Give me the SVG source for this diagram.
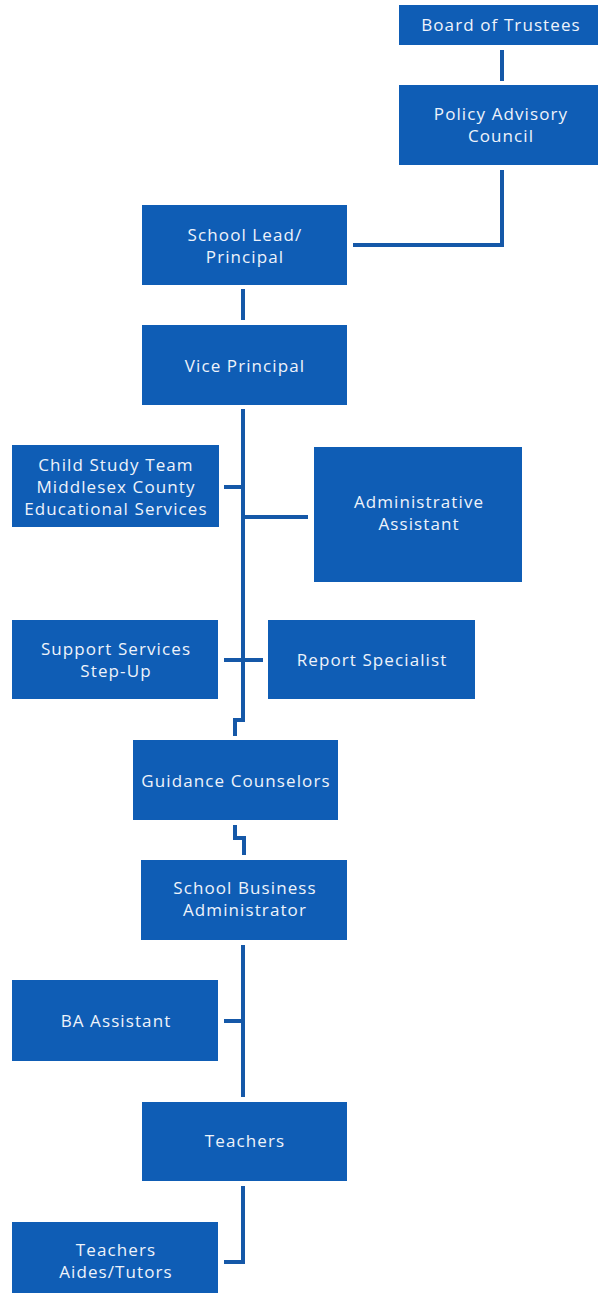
<svg xmlns="http://www.w3.org/2000/svg" width="599" height="1297" viewBox="0 0 599 1297">
<style>
.box{fill:#0f5db5}
.t{fill:#eef3fb;font-family:"Open Sans","Liberation Sans",sans-serif;font-size:17px;letter-spacing:1.1px;text-anchor:middle}
.c{fill:none;stroke:#1558a8;stroke-width:4;stroke-linejoin:miter}
</style>
<rect width="599" height="1297" fill="#ffffff"/>
<g id="connectors">
<path class="c" d="M502,50 V81"/>
<path class="c" d="M502,170 V245 H353"/>
<path class="c" d="M243,289 V320"/>
<path class="c" d="M243,409 V720 H235 V736"/>
<path class="c" d="M224,487 H243"/>
<path class="c" d="M243,517 H308"/>
<path class="c" d="M224,660 H263"/>
<path class="c" d="M235,825 V838 H244 V855"/>
<path class="c" d="M243,945 V1097"/>
<path class="c" d="M224,1021 H243"/>
<path class="c" d="M243,1186 V1262 H224"/>
</g>
<g id="board">
<rect class="box" x="399" y="5" width="199" height="40"/>
<text class="t" x="501" y="31">Board of Trustees</text>
</g>
<g id="policy">
<rect class="box" x="399" y="85" width="199" height="80"/>
<text class="t" x="501" y="120">Policy Advisory</text>
<text class="t" x="501" y="142">Council</text>
</g>
<g id="lead">
<rect class="box" x="142" y="205" width="205" height="80"/>
<text class="t" x="245" y="241">School Lead/</text>
<text class="t" x="245" y="263">Principal</text>
</g>
<g id="vice">
<rect class="box" x="142" y="325" width="205" height="80"/>
<text class="t" x="245" y="372">Vice Principal</text>
</g>
<g id="cst">
<rect class="box" x="12" y="445" width="207" height="82"/>
<text class="t" x="116" y="471">Child Study Team</text>
<text class="t" x="116" y="493">Middlesex County</text>
<text class="t" x="116" y="515">Educational Services</text>
</g>
<g id="admin">
<rect class="box" x="314" y="447" width="208" height="135"/>
<text class="t" x="419" y="508">Administrative</text>
<text class="t" x="419" y="530">Assistant</text>
</g>
<g id="support">
<rect class="box" x="12" y="620" width="206" height="79"/>
<text class="t" x="116" y="655">Support Services</text>
<text class="t" x="116" y="677">Step-Up</text>
</g>
<g id="report">
<rect class="box" x="268" y="620" width="207" height="79"/>
<text class="t" x="372" y="666">Report Specialist</text>
</g>
<g id="guidance">
<rect class="box" x="133" y="740" width="205" height="80"/>
<text class="t" x="236" y="787">Guidance Counselors</text>
</g>
<g id="sba">
<rect class="box" x="141" y="860" width="206" height="80"/>
<text class="t" x="245" y="894">School Business</text>
<text class="t" x="245" y="916">Administrator</text>
</g>
<g id="ba">
<rect class="box" x="12" y="980" width="206" height="81"/>
<text class="t" x="116" y="1027">BA Assistant</text>
</g>
<g id="teachers">
<rect class="box" x="142" y="1102" width="205" height="79"/>
<text class="t" x="245" y="1147">Teachers</text>
</g>
<g id="aides">
<rect class="box" x="12" y="1222" width="206" height="71"/>
<text class="t" x="116" y="1256">Teachers</text>
<text class="t" x="116" y="1278">Aides/Tutors</text>
</g>
</svg>
